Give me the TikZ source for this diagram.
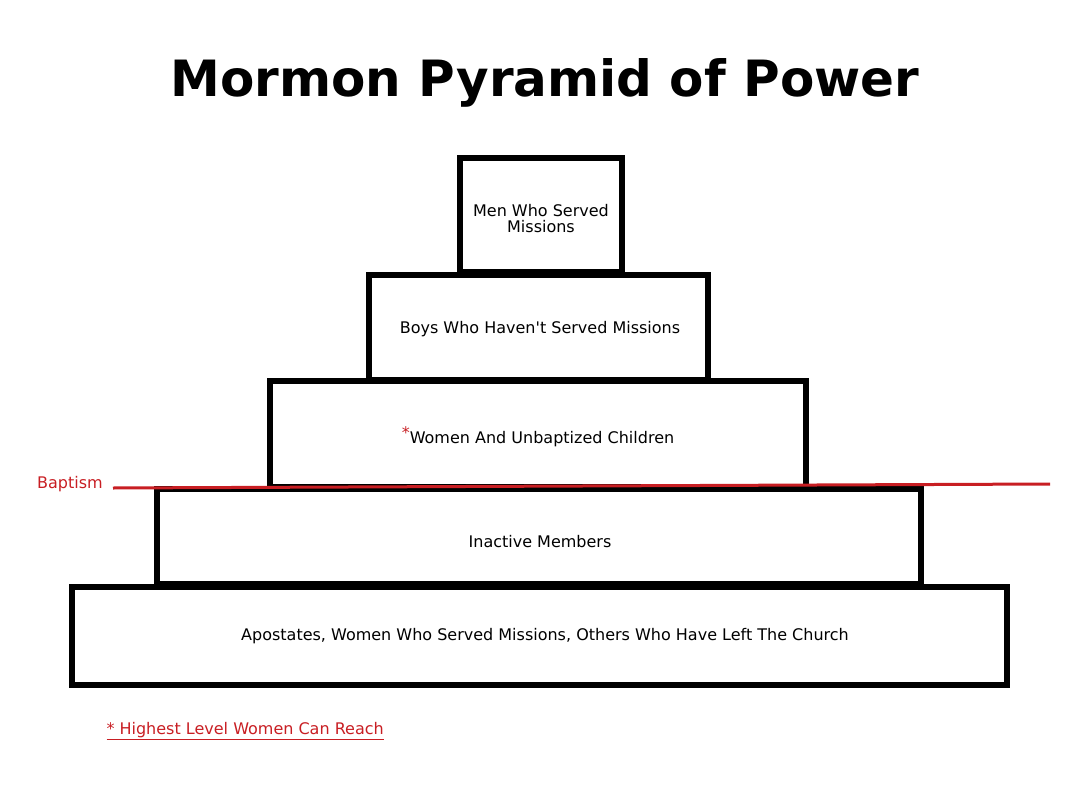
\documentclass[tikz,border=0pt]{standalone}
\usepackage{fontspec}
\setmainfont[Ligatures=NoCommon]{DejaVu Sans}
\newfontfamily\plainfont[Mapping=]{DejaVu Sans}
\begin{document}
\begin{tikzpicture}[x=1pt,y=-1pt,
  lvl/.style={draw=black,line width=6pt,fill=white},
  lab/.style={font=\fontsize{16}{18}\selectfont,align=center,text=black},
  redt/.style={text={rgb,255:red,200;green,30;blue,35},font=\fontsize{16}{18}\selectfont}]
\definecolor{rd}{RGB}{200,30,35}
\useasboundingbox (0,0) rectangle (1080,806);
\node[font=\bfseries\fontsize{50}{56}\selectfont] (title) at (545,83) {Mormon Pyramid of Power};
\draw[lvl] (72,587) rectangle (1007,685);
\draw[lvl] (157,489) rectangle (921,584);
\draw[lvl] (270,381) rectangle (806,487);
\draw[lvl] (369,275) rectangle (708,380);
\draw[lvl] (460,158) rectangle (622,272);
\node[lab] (l1) at (541,219) {Men Who Served\\[-2pt]Missions};
\node[lab] (l2) at (540,329) {Boys Who Haven\textquotesingle t Served Missions};
\node[lab] (l3) at (538,437) {\textcolor{rd}{\raisebox{5pt}{*}}Women And Unbaptized Children};
\node[lab] (l4) at (540,542) {Inactive Members};
\node[lab] (l5) at (545,636) {Apostates, Women Who Served Missions, Others Who Have Left The Church};
\node[redt] (bap) at (70,484) {Baptism};
\coordinate (b1) at (113,488);
\coordinate (b2) at (1050,484);
\draw[rd,line width=3pt] (b1) -- (b2);
\node[redt,anchor=west] (foot) at (103,731) {\underline{* Highest Level Women Can Reach}};
\end{tikzpicture}
\end{document}
